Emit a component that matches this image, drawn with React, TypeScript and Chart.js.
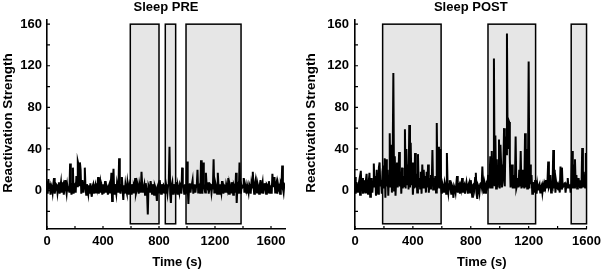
import React, { useEffect, useRef } from "react";
import { Chart, registerables } from "chart.js";

Chart.register(...registerables);

const STEP = 5; // seconds between samples

// Sleep PRE reactivation strength, one sample every 5 s from 0 to 1700 s
const preValues = [
  9, -3, 11, 2, 7, -4, 5, 3, -2, 6, 12, -3, 1, 6, 5, -2, 4, 8, -3, 3,
  8, -2, 4, 6, -4, 3, 10, 2, -3, 5, 0, 4, -2, 26, 3, -4, 6, 22, -3, 5,
  6, -2, 14, 4, 28, 25, 5, 27, 20, -3, 10, 4, -2, 7, 22, 3, -4, 6, 2, -3,
  5, -3, 7, -2, -6, 4, 6, -3, 2, 5, -2, 7, 3, 13, -3, 4, 8, -2, 3, -4,
  6, -3, 2, 9, -2, 5, 3, -4, 4, 6, -2, 5, 17, -10, 4, 21, -3, 6, 2, -3,
  7, 3, -2, 31, 4, -3, 5, 13, 2, -9, 5, -3, 6, 1, -2, 8, 3, -4, 5, 2,
  -3, 6, 2, -2, 5, 3, 12, -3, 0, 7, 4, -3, 6, 2, -2, 18, 5, -2, 3, 6,
  -4, 7, 2, -3, -23, 5, 3, -2, 9, 4, -3, 6, 2, -4, 5, 3, -2, -10, 4, 6,
  -2, 10, 3, -3, 6, 2, -2, 5, 4, -3, 6, 2, -3, 5, 8, 42, -3, -12, 5, 8,
  -3, 6, 2, -2, 8, 3, -3, 5, 2, -2, 6, 4, -3, 22, 5, 4, -3, 6, 2, -3,
  28, 3, -13, 5, 7, -2, 4, 6, 10, -3, 3, 6, -2, 4, 5, 20, -2, 3, 5, -3,
  29, 4, -3, 27, 6, 2, -2, 17, 5, 3, 8, -3, 2, 6, 5, -2, 4, 3, 30, -2,
  -2, 6, 3, -3, 17, 4, -3, 6, 2, -2, 9, 3, -3, 5, 4, -2, 6, 3, -2, 12,
  -3, 6, 3, -2, 8, 2, -4, 5, 3, -2, 17, -12, 4, 6, -3, 27, 4, -3, 5, 3,
  4, 12, -2, 6, 3, -3, 5, 2, -2, 6, 4, -3, 7, 3, 18, 4, -3, 6, 10, 2,
  -2, 6, 3, -3, 5, 10, -2, 4, 8, -3, 5, 7, 2, -3, 6, 5, -2, 9, 3, -3,
  5, -3, 16, 4, 6, 13, -2, 5, 8, -3, 6, 2, 4, -3, 7, 5, 24, 2, -2, 6, 5,
];

// Sleep POST reactivation strength, one sample every 5 s from 0 to 1600 s
const postValues = [
  13, -3, 8, 2, -2, 6, 10, -4, 19, 3, 12, -3, 10, 5, -2, 9, 16, 2, -3, 8,
  17, -6, 4, 12, -2, 8, 26, 3, 14, -5, 20, 2, -3, 22, 27, 4, 10, -3, 18, 24,
  2, 31, -7, 30, 4, 20, -5, 14, 55, 3, 44, -2, 22, 113, 0, 33, -5, 12, 27, 3,
  15, 37, 4, 18, -3, 22, 2, 14, 4, 59, 2, 40, 6, 25, 1, 63, 3, 46, 5, 27,
  -4, 10, 2, 36, 3, 16, -2, 35, 4, 12, 2, 18, -3, 25, 3, 20, 2, 14, -2, 18,
  3, 25, -2, 12, 2, 15, 4, 39, 1, 12, 3, 14, -2, 65, 3, 5, 42, 2, 40, 3,
  -3, 6, 3, -2, 8, 5, -3, 36, 4, -2, 6, 10, 2, -3, 5, 3, -7, 4, 2, -2,
  6, 14, -2, 3, 5, -3, 4, 1, 12, -2, 3, 5, -3, 4, 8, 2, -3, 6, 8, -2,
  10, 3, -6, 5, 6, 2, 12, 17, -3, -8, 5, 3, -2, 6, 8, 4, 23, 5, -3, 8,
  5, -3, 6, 4, 15, 2, 12, 33, 3, 38, 2, 18, 127, 4, 53, 2, 30, 3, 20, 49,
  2, 44, 25, 3, 8, 20, 60, 4, 52, 35, 151, 40, 68, 66, 30, 3, 12, 25, 2, 15,
  3, 6, 52, 2, 5, 12, 3, 20, 4, 38, 2, 20, 3, 14, 2, 55, 3, 40, 2, 12,
  124, 2, 25, 6, 15, -3, 8, 4, -2, 10, 5, -3, 6, 1, 4, 6, -2, 3, 5, -2,
  4, -1, 6, 3, 10, 2, 8, 28, 3, 5, 15, -2, 6, 4, 39, 2, 20, -2, 8, 3,
  2, 6, 4, -2, 23, 2, 22, 3, 4, 6, 8, -2, 5, 3, 12, 4, 3, 6, -2, 8,
  38, 2, 25, 3, 30, 4, 15, 2, 4, 12, 5, 3, 10, 2, 41, 3, 18, 5, 3, 36,
  10,
];

// shaded epochs (seconds)
const preBoxStart = [595, 845, 993];
const preBoxEnd = [800, 919, 1386];
const postBoxStart = [191, 919, 1494];
const postBoxEnd = [595, 1248, 1600];

const xTickLabels = [0, 400, 800, 1200, 1600];
const yTickLabels = [0, 40, 80, 120, 160];

const BOX_TOP = 160;
const BOX_BOTTOM = -32;
const Y_MIN = -37;
const Y_MAX = 164;

const FONT = '"Liberation Sans", Arial, sans-serif';

type PanelProps = {
  title: string;
  values: number[];
  boxStart: number[];
  boxEnd: number[];
  xMax: number;
  axisLeft: number;
  rightPad: number;
  labelPad: number;
};

function Panel({ title, values, boxStart, boxEnd, xMax, axisLeft, rightPad, labelPad }: PanelProps) {
  const ref = useRef<HTMLCanvasElement | null>(null);

  useEffect(() => {
    if (!ref.current) return;
    const decor = {
      id: "panelDecor",
      beforeDatasetsDraw(chart: any) {
        const { ctx, scales } = chart;
        const x = scales.x;
        const y = scales.y;
        ctx.save();
        for (let i = 0; i < boxStart.length; i++) {
          const x0 = x.getPixelForValue(boxStart[i]);
          const x1 = x.getPixelForValue(boxEnd[i]);
          const y0 = y.getPixelForValue(BOX_TOP);
          const y1 = y.getPixelForValue(BOX_BOTTOM);
          ctx.fillStyle = "#e6e6e6";
          ctx.fillRect(x0, y0, x1 - x0, y1 - y0);
          ctx.strokeStyle = "#000";
          ctx.lineWidth = 1.5;
          ctx.strokeRect(x0, y0, x1 - x0, y1 - y0);
        }
        ctx.restore();
      },
      afterDraw(chart: any) {
        const { ctx, scales, chartArea } = chart;
        const x = scales.x;
        const y = scales.y;
        ctx.save();
        ctx.strokeStyle = "#000";
        ctx.lineWidth = 1.2;
        ctx.beginPath();
        for (const t of x.ticks) {
          if (t.value % 200 !== 0) continue;
          const px = x.getPixelForValue(t.value);
          ctx.moveTo(px, chartArea.bottom);
          ctx.lineTo(px, chartArea.bottom - 3);
        }
        for (const t of y.ticks) {
          if (t.value % 20 !== 0) continue;
          const py = y.getPixelForValue(t.value);
          ctx.moveTo(chartArea.left, py);
          ctx.lineTo(chartArea.left + 3, py);
        }
        ctx.stroke();

        ctx.fillStyle = "#000";
        ctx.font = `bold 13px ${FONT}`;
        ctx.textAlign = "center";
        ctx.textBaseline = "alphabetic";
        const cx = (chartArea.left + chartArea.right) / 2;
        ctx.fillText(title, cx, 11);
        ctx.fillText("Time (s)", cx + 11, 266);
        ctx.font = `bold 13.5px ${FONT}`;
        ctx.translate(12, (chartArea.top + chartArea.bottom) / 2 - 1.5);
        ctx.rotate(-Math.PI / 2);
        ctx.fillText("Reactivation Strength", 0, 0);
        ctx.restore();
      },
    };

    const tickFont = { family: FONT, size: 13, weight: "bold" as const };

    const chart = new Chart(ref.current, {
      type: "line",
      data: {
        datasets: [
          {
            data: values.map((v, i) => ({ x: i * STEP, y: v })),
            borderColor: "#000",
            borderWidth: 2,
            pointRadius: 0,
            tension: 0,
            fill: false,
          },
        ],
      },
      options: {
        animation: false,
        responsive: false,
        devicePixelRatio: 1,
        layout: { padding: { top: 20, right: rightPad, left: 0, bottom: 0 } },
        plugins: {
          legend: { display: false },
          title: { display: false },
          tooltip: { enabled: false },
        },
        scales: {
          x: {
            type: "linear",
            min: 0,
            max: xMax,
            afterFit: (s: any) => {
              s.height = 40;
            },
            ticks: {
              stepSize: 200,
              includeBounds: false,
              autoSkip: false,
              maxRotation: 0,
              color: "#000",
              font: tickFont,
              padding: 5,
              callback: (v: any) => (xTickLabels.includes(Number(v)) ? String(v) : ""),
            },
            grid: { display: false, drawTicks: false },
            border: { display: true, color: "#000", width: 1.6 },
          },
          y: {
            type: "linear",
            min: Y_MIN,
            max: Y_MAX,
            afterFit: (s: any) => {
              s.width = axisLeft;
            },
            ticks: {
              stepSize: 20,
              includeBounds: false,
              autoSkip: false,
              color: "#000",
              font: tickFont,
              padding: labelPad,
              callback: (v: any) => (yTickLabels.includes(Number(v)) ? String(v) : ""),
            },
            grid: { display: false, drawTicks: false },
            border: { display: true, color: "#000", width: 1.6 },
          },
        },
      } as any,
      plugins: [decor],
    });
    return () => chart.destroy();
  }, []);

  return <canvas ref={ref} width={303} height={269} style={{ display: "block", width: 303, height: 269 }} />;
}

export default function App() {
  return (
    <div style={{ position: "fixed", left: 0, top: 0, width: 606, height: 269, display: "flex", background: "#fff" }}>
      <Panel title="Sleep PRE" values={preValues} boxStart={preBoxStart} boxEnd={preBoxEnd} xMax={1700} axisLeft={47} rightPad={18} labelPad={5} />
      <Panel title="Sleep POST" values={postValues} boxStart={postBoxStart} boxEnd={postBoxEnd} xMax={1600} axisLeft={52} rightPad={14} labelPad={6} />
    </div>
  );
}
